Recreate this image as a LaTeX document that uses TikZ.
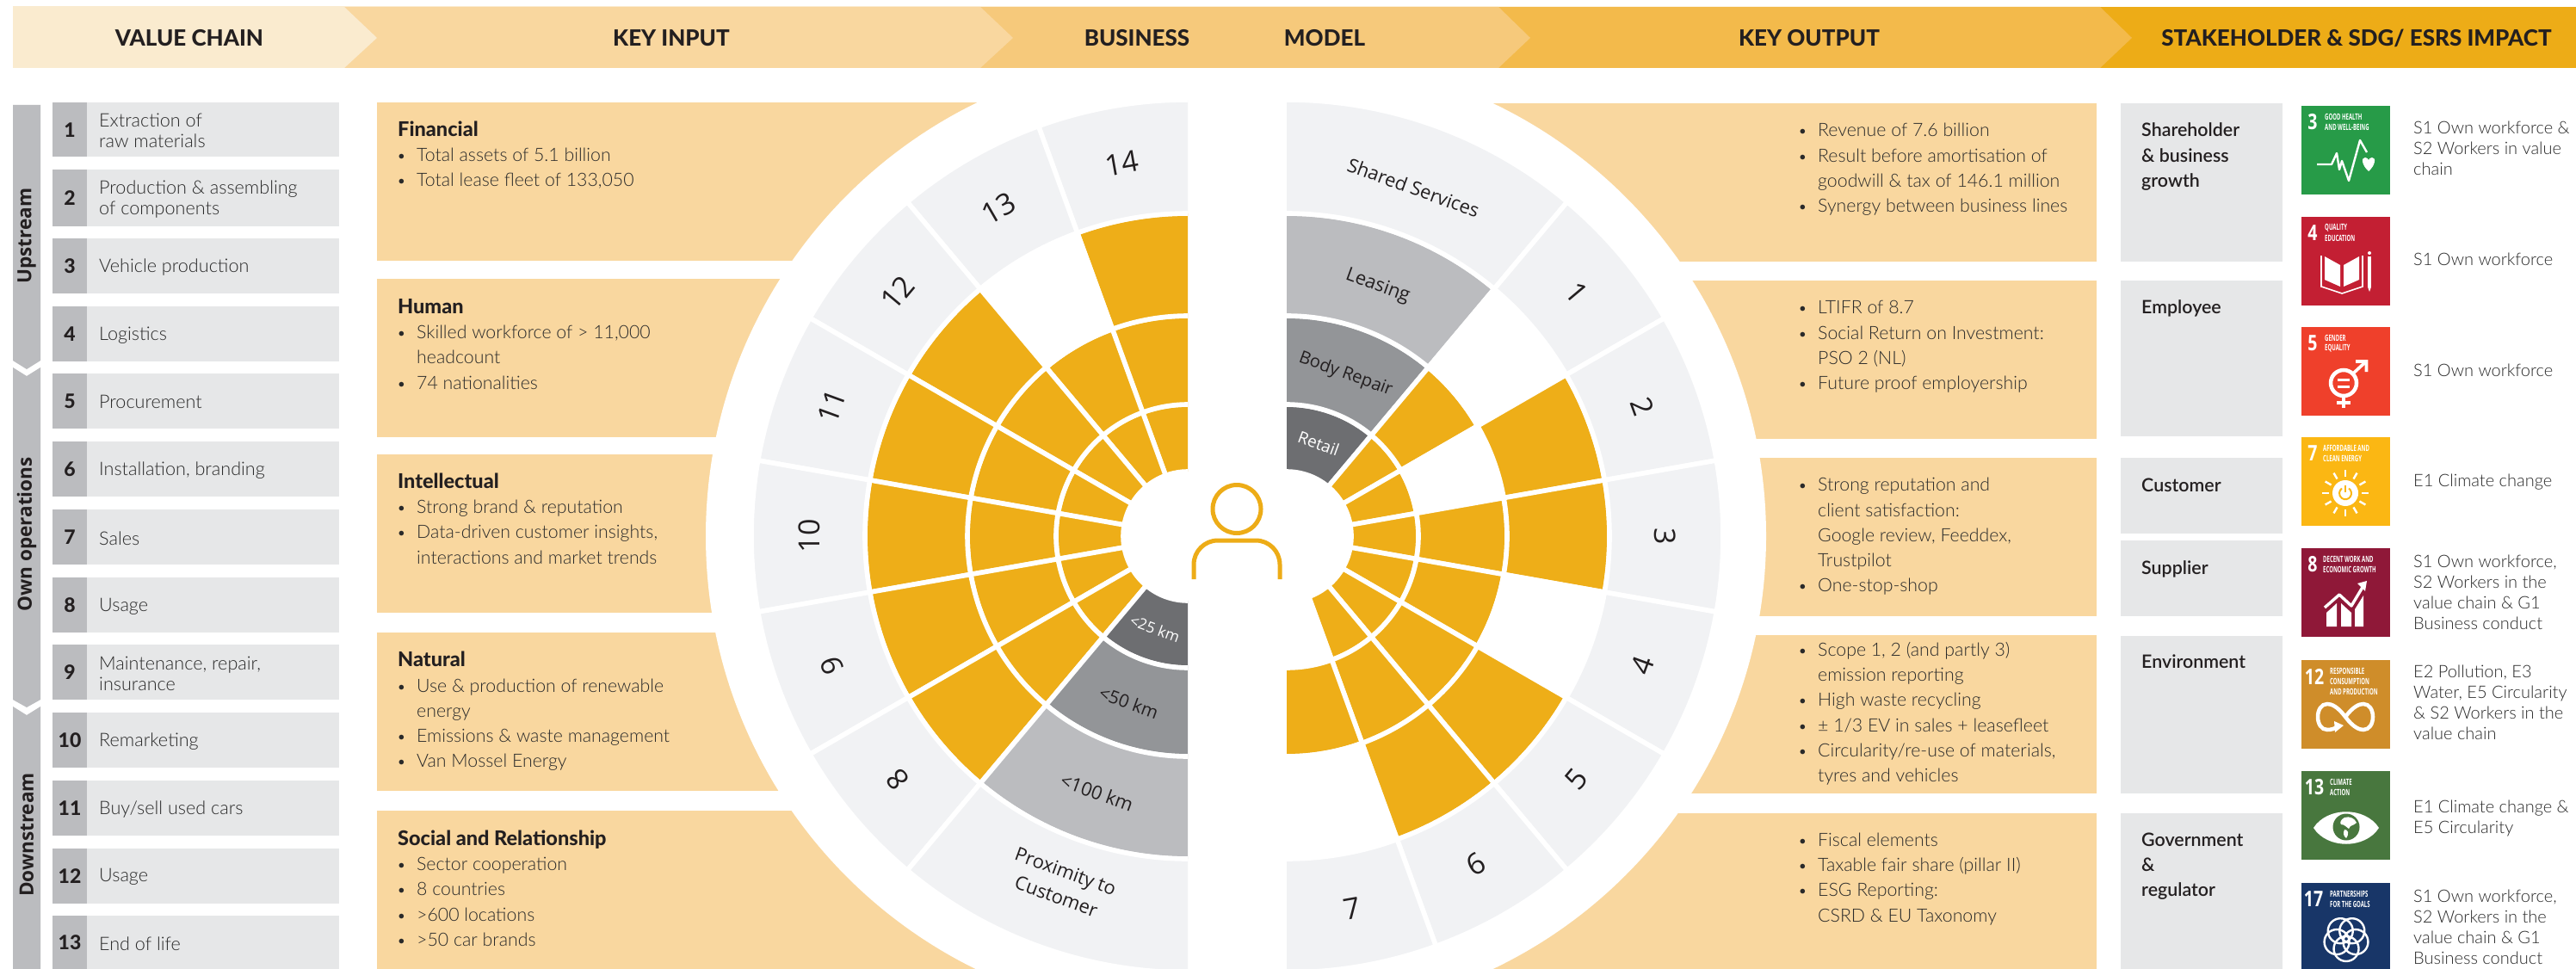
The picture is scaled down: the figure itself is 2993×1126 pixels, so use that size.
\documentclass[tikz,border=0pt]{standalone}
\usepackage{fontspec}
\usepackage{graphicx}
\usetikzlibrary{calc}
\setmainfont{Lato Light}[BoldFont=Lato Heavy]
\newfontfamily\reg{Lato}
\newfontfamily\semi{Lato Semibold}
\newfontfamily\hv{Lato Heavy}
\newfontfamily\os{Open Sans}
\newfontfamily\osb{Open Sans Bold}
\definecolor{hA}{HTML}{FAEBCF}
\definecolor{hB}{HTML}{F9D79F}
\definecolor{hC}{HTML}{F6C97B}
\definecolor{hD}{HTML}{F3BA4B}
\definecolor{hE}{HTML}{EDAC17}
\definecolor{pan}{HTML}{F9D79F}
\definecolor{gbox}{HTML}{E6E7E8}
\definecolor{gnum}{HTML}{BBBCBF}
\definecolor{lab}{HTML}{F1F2F4}
\definecolor{og}{HTML}{EEAE18}
\definecolor{gA}{HTML}{BBBCBF}
\definecolor{gB}{HTML}{939598}
\definecolor{gC}{HTML}{6D6E71}
\definecolor{ink}{HTML}{231F20}
\definecolor{txt}{HTML}{2A2A2A}
\definecolor{sdg3}{HTML}{279B48}
\definecolor{sdg4}{HTML}{C31F33}
\definecolor{sdg5}{HTML}{EF402B}
\definecolor{sdg7}{HTML}{FBB713}
\definecolor{sdg8}{HTML}{8F1838}
\definecolor{sdg12}{HTML}{CF8D2A}
\definecolor{sdg13}{HTML}{48773E}
\definecolor{sdg17}{HTML}{183668}
\tikzset{
 hdr/.style={font=\fontsize{26}{26}\selectfont\hv,text=ink,inner sep=0},
 rowtxt/.style={font=\fontsize{21.6}{24}\selectfont,text=txt,inner sep=0,anchor=west,align=left},
 numtxt/.style={font=\fontsize{23}{23}\selectfont\hv,text=ink,inner sep=0},
 sidetxt/.style={font=\fontsize{22.5}{22.5}\selectfont\osb,text=ink,inner sep=0,rotate=90},
 paneltxt/.style={font=\fontsize{21.3}{29.3}\selectfont,text=txt,inner sep=0,anchor=north west,align=left},
 stxt/.style={font=\fontsize{21.4}{29.3}\selectfont\semi,text=ink,inner sep=0,anchor=north west,align=left},
 imptxt/.style={font=\fontsize{20}{24}\selectfont,text=txt,inner sep=0,anchor=north west,align=left},
 wnum/.style={font=\fontsize{34}{34}\selectfont\os,text=ink,inner sep=0},
 wlab/.style={font=\fontsize{22}{31}\selectfont\os,text=ink,inner sep=0,align=left},
 sdgnum/.style={font=\fontsize{25}{25}\selectfont\osb,text=white,inner sep=0},
 sdgt/.style={font=\fontsize{10}{10}\selectfont\osb,text=white,inner sep=0,anchor=west},
}
\newcommand{\ttl}[1]{\strut{\fontsize{23.5}{29.3}\selectfont\hv\textcolor{ink}{#1}}}
\newcommand{\bl}[1]{\strut\makebox[22pt][l]{\raisebox{1pt}{\fontsize{15}{15}\selectfont\reg •}}#1}
\newcommand{\cl}[1]{\strut\hspace*{22pt}#1}
\newcommand{\vcrow}[4]{%
 \fill[gnum] (61,#2) rectangle (101,#3);
 \fill[gbox] (101,#2) rectangle (394,#3);
 \node[numtxt] (vn#1) at (81,{(#2+#3)/2}) {#1};
 \node[rowtxt] (vt#1) at (115,{(#2+#3)/2+1.5}) {#4};}
\newcommand{\wcell}[5]{%
 \filldraw[fill=#5,draw=white,line width=5.6pt,line join=miter]
  (#1:#3pt) -- (#1:#4pt) arc[start angle=#1,end angle=#2,radius=#4pt]
  -- (#2:#3pt) arc[start angle=#2,end angle=#1,radius=#3pt] -- cycle;}
\newcommand{\sect}[5]{%
 \wcell{#1}{#2}{75}{153}{#3}\wcell{#1}{#2}{153}{256}{#4}\wcell{#1}{#2}{256}{375}{#5}\wcell{#1}{#2}{375}{507}{lab}}
\newcommand{\sdg}[6]{% name, top, colour, number, number x, drawing
 \begin{scope}[shift={(2674,#2)}]
 \fill[#3] (0,0) rectangle (103,{min(103,1126-#2)});
 \node[sdgnum] (#1n) at (#5,19) {\scalebox{.78}[1]{#4}};
 #6
 \end{scope}}
\newcommand{\stl}[3]{\node[sdgt] at (#1,#2) {\scalebox{.6}[1]{#3}};}
\begin{document}
\begin{tikzpicture}[x=1pt,y=-1pt]
\useasboundingbox (0,0) rectangle (2993,1126);
\fill[white] (0,0) rectangle (2993,1126);
% key input panels
\fill[pan] (438,119) rectangle (1380,303);
\fill[pan] (438,324) rectangle (1380,508);
\fill[pan] (438,528) rectangle (1380,712);
\fill[pan] (438,735) rectangle (1380,919);
\fill[pan] (438,942) rectangle (1380,1126);
% key output panels
\fill[pan] (1495,120) rectangle (2436,304);
\fill[pan] (1495,326) rectangle (2436,510);
\fill[pan] (1495,532) rectangle (2436,716);
\fill[pan] (1495,738) rectangle (2436,922);
\fill[pan] (1495,945) rectangle (2436,1126);
% white halos
\begin{scope}[shift={(1380,623)},x=1pt,y=1pt]
\fill[white] (90:560pt) arc[start angle=90,end angle=270,radius=560pt] -- cycle;
\end{scope}
\begin{scope}[shift={(1495,623)},x=1pt,y=1pt]
\fill[white] (90:557pt) arc[start angle=90,end angle=-90,radius=557pt] -- cycle;
\end{scope}
% header
\fill[hE] (15,8) rectangle (2993,79);
\fill[hD] (15,8) -- (2440,8) -- (2477,44) -- (2440,79) -- (15,79) -- cycle;
\fill[hC] (15,8) -- (1741,8) -- (1778,44) -- (1741,79) -- (15,79) -- cycle;
\fill[hB] (15,8) -- (1139,8) -- (1177,44) -- (1139,79) -- (15,79) -- cycle;
\fill[hA] (15,8) -- (400,8) -- (438,44) -- (400,79) -- (15,79) -- cycle;
\node[hdr] (h1) at (220,44) {VALUE CHAIN};
\node[hdr] (h2) at (780,44) {KEY INPUT};
\node[hdr] (h3) at (1321,44) {BUSINESS};
\node[hdr] (h4) at (1539,44) {MODEL};
\node[hdr] (h5) at (2102,44) {KEY OUTPUT};
\node[hdr] (h6) at (2738,44) {STAKEHOLDER \& SDG/ ESRS IMPACT};
% side bar
\fill[gnum] (15,122) -- (47,122) -- (47,419) -- (31,429) -- (15,419) -- cycle;
\fill[gnum] (15,427) -- (31,437) -- (47,427) -- (47,813) -- (31,822) -- (15,813) -- cycle;
\fill[gnum] (15,821) -- (31,831) -- (47,821) -- (47,1126) -- (15,1126) -- cycle;
\node[sidetxt] (s1) at (31,274) {Upstream};
\node[sidetxt] (s2) at (31,621) {Own operations};
\node[sidetxt] (s3) at (31,970) {Downstream};
% value chain rows
\vcrow{1}{119}{182.5}{Extraction of\\raw materials}
\vcrow{2}{197}{262.5}{Production \& assembling\\of components}
\vcrow{3}{277}{340.6}{Vehicle production}
\vcrow{4}{356}{420}{Logistics}
\vcrow{5}{434}{497.5}{Procurement}
\vcrow{6}{513}{577}{Installation, branding}
\vcrow{7}{592}{655.7}{Sales}
\vcrow{8}{671}{735}{Usage}
\vcrow{9}{749}{813}{Maintenance, repair,\\insurance}
\vcrow{10}{828}{892}{Remarketing}
\vcrow{11}{907}{971}{Buy/sell used cars}
\vcrow{12}{986}{1049.5}{Usage}
\vcrow{13}{1064}{1127}{End of life}
% key input text
\node[paneltxt] (i1) at (462,137.5) {\ttl{Financial}\\\bl{Total assets of 5.1 billion}\\\bl{Total lease fleet of 133,050}};
\node[paneltxt] (i2) at (462,343.5) {\ttl{Human}\\\bl{Skilled workforce of > 11,000}\\\cl{headcount}\\\bl{74 nationalities}};
\node[paneltxt] (i3) at (462,546.5) {\ttl{Intellectual}\\\bl{Strong brand \& reputation}\\\bl{Data-driven customer insights,}\\\cl{interactions and market trends}};
\node[paneltxt] (i4) at (462,754) {\ttl{Natural}\\\bl{Use \& production of renewable}\\\cl{energy}\\\bl{Emissions \& waste management}\\\bl{Van Mossel Energy}};
\node[paneltxt] (i5) at (462,961.5) {\ttl{Social and Relationship}\\\bl{Sector cooperation}\\\bl{8 countries}\\\bl{>600 locations}\\\bl{>50 car brands}};
% key output text
\node[paneltxt] (o1) at (2090,138) {\bl{Revenue of 7.6 billion}\\\bl{Result before amortisation of}\\\cl{goodwill \& tax of 146.1 million}\\\bl{Synergy between business lines}};
\node[paneltxt] (o2) at (2090,344) {\bl{LTIFR of 8.7}\\\bl{Social Return on Investment:}\\\cl{PSO 2 (NL)}\\\bl{Future proof employership}};
\node[paneltxt] (o3) at (2090,550) {\bl{Strong reputation and}\\\cl{client satisfaction:}\\\cl{Google review, Feeddex,}\\\cl{Trustpilot}\\\bl{One-stop-shop}};
\node[paneltxt] (o4) at (2090,741.5) {\bl{Scope 1, 2 (and partly 3)}\\\cl{emission reporting}\\\bl{High waste recycling}\\\bl{± 1/3 EV in sales + leasefleet}\\\bl{Circularity/re-use of materials,}\\\cl{tyres and vehicles}};
\node[paneltxt] (o5) at (2090,962.5) {\bl{Fiscal elements}\\\bl{Taxable fair share (pillar II)}\\\bl{ESG Reporting:}\\\cl{CSRD \& EU Taxonomy}};
% stakeholder boxes
\fill[gbox] (2464,120) rectangle (2652,304);
\fill[gbox] (2464,326) rectangle (2652,507);
\fill[gbox] (2464,532) rectangle (2652,620);
\fill[gbox] (2464,628) rectangle (2652,716);
\fill[gbox] (2464,739) rectangle (2652,922);
\fill[gbox] (2464,945) rectangle (2652,1126);
\node[stxt] (k1) at (2488,138) {\strut Shareholder\\\strut \& business\\\strut growth};
\node[stxt] (k2) at (2488,344) {\strut Employee};
\node[stxt] (k3) at (2488,550.5) {\strut Customer};
\node[stxt] (k4) at (2488,646.5) {\strut Supplier};
\node[stxt] (k5) at (2488,755.5) {\strut Environment};
\node[stxt] (k6) at (2488,962.5) {\strut Government\\\strut \&\\\strut regulator};
% impact text
\node[imptxt] (m1) at (2804,139) {\strut S1 Own workforce \&\\\strut S2 Workers in value\\\strut chain};
\node[imptxt] (m2) at (2804,291) {\strut S1 Own workforce};
\node[imptxt] (m3) at (2804,420) {\strut S1 Own workforce};
\node[imptxt] (m4) at (2804,548.5) {\strut E1 Climate change};
\node[imptxt] (m5) at (2804,642) {\strut S1 Own workforce,\\\strut S2 Workers in the\\\strut value chain \& G1\\\strut Business conduct};
\node[imptxt] (m6) at (2804,770) {\strut E2 Pollution, E3\\\strut Water, E5 Circularity\\\strut \& S2 Workers in the\\\strut value chain};
\node[imptxt] (m7) at (2804,927) {\strut E1 Climate change \&\\\strut E5 Circularity};
\node[imptxt] (m8) at (2804,1031) {\strut S1 Own workforce,\\\strut S2 Workers in the\\\strut value chain \& G1\\\strut Business conduct};
% SDG icons
\sdg{a}{123}{sdg3}{3}{13}{\stl{27}{13}{GOOD HEALTH}\stl{27}{25}{AND WELL-BEING}
 \draw[white,line width=2.4pt,line join=round] (18,68)--(35,68)--(41,55)--(44,74)--(47,64)--(55,87)--(68,40)--(76,54);
 \fill[white] (78,76) .. controls (70,69) and (69,60) .. (74,60) .. controls (76,60) and (78,62) .. (78,63) .. controls (78,62) and (80,60) .. (82,60) .. controls (87,60) and (86,69) .. (78,76) -- cycle;}
\sdg{b}{252}{sdg4}{4}{13}{\stl{27}{13}{QUALITY}\stl{27}{25}{EDUCATION}
 \fill[white] (27,46)--(45,56)--(45,81)--(27,73)--cycle (49,56)--(67,46)--(67,73)--(49,81)--cycle;
 \draw[white,line width=1.6pt] (23,45)--(23,81)--(47,89)--(71,81)--(71,45);
 \draw[white,line width=3.5pt] (79,46)--(79,82);
 \fill[white] (77.2,82)--(80.8,82)--(79,87)--cycle (79,42) circle (2);}
\sdg{c}{380}{sdg5}{5}{13}{\stl{27}{13}{GENDER}\stl{27}{25}{EQUALITY}
 \draw[white,line width=4.5pt] (49,65) circle (15);
 \draw[white,line width=3pt] (42,61)--(56,61) (42,69)--(56,69);
 \draw[white,line width=3.6pt] (60,54)--(74,41) (63,40)--(75.5,40)--(75.5,52);
 \draw[white,line width=4pt] (49,81)--(49,94) (41,88)--(57,88);}
\sdg{d}{508}{sdg7}{7}{13}{\stl{25}{13}{AFFORDABLE AND}\stl{25}{25}{CLEAN ENERGY}
 \fill[white] (51,65) circle (15);
 \foreach \t in {0,30,...,330}{\draw[white,line width=2.4pt] ($(51,65)+(\t:19)$)--($(51,65)+(\t:27)$);}
 \draw[sdg7,line width=2pt] (55,59.5) arc[start angle=-55,end angle=235,radius=7];
 \draw[sdg7,line width=2pt] (51,56)--(51,64);}
\sdg{e}{637}{sdg8}{8}{13}{\stl{25}{13}{DECENT WORK AND}\stl{25}{25}{ECONOMIC GROWTH}
 \fill[white] (29,91)--(29,75)--(41,64)--(41,91)--cycle (46,91)--(46,64)--(58,75)--(58,91)--cycle (62,91)--(62,71)--(72,55)--(72,91)--cycle;
 \draw[white,line width=3.4pt,line join=round] (27,69)--(44,54)--(58,67)--(73,42);
 \fill[white] (76,38)--(65,41)--(74,50)--cycle;}
\sdg{f}{767}{sdg12}{12}{15}{\stl{33}{13}{RESPONSIBLE}\stl{33}{25}{CONSUMPTION}\stl{33}{37}{AND PRODUCTION}
 \draw[white,line width=4.5pt] (51,66) .. controls (60,54) and (67,51) .. (72,51) .. controls (79,51) and (83,58) .. (83,66) .. controls (83,74) and (79,81) .. (72,81) .. controls (67,81) and (60,78) .. (51,66) .. controls (42,54) and (35,51) .. (30,51) .. controls (23,51) and (19,58) .. (19,66) .. controls (19,74) and (23,81) .. (30,81) .. controls (34,81) and (38,80) .. (41,78);
 \fill[white] (49,76)--(38,71)--(39,84)--cycle;}
\sdg{g}{896}{sdg13}{13}{15}{\stl{33}{13}{CLIMATE}\stl{33}{25}{ACTION}
 \fill[white] (14,66) .. controls (30,41) and (74,41) .. (90,66) .. controls (74,91) and (30,91) .. (14,66) -- cycle;
 \fill[sdg13] (52,65) circle (15.5);
 \fill[white] (50,54) .. controls (56,52) and (62,55) .. (64,60) .. controls (60,64) and (57,62) .. (55,67) .. controls (52,65) and (50,62) .. (46,62) .. controls (44,60) and (46,56) .. (50,54) -- cycle
 (50,68) .. controls (54,68) and (56,72) .. (52,78) .. controls (49,76) and (48,72) .. (50,68) -- cycle;}
\sdg{h}{1026}{sdg17}{17}{14}{\stl{33}{13}{PARTNERSHIPS}\stl{33}{25}{FOR THE GOALS}
 \foreach \t in {90,162,234,306,18}{\draw[white,line width=2.4pt] ($(52,65)+(\t:11.5)$) circle (14.5);}}
% wheel, left half
\begin{scope}[shift={(1380,623)},x=1pt,y=1pt]
\begin{scope}
\clip (-600,-600) rectangle (0,600);
\sect{80}{110}{og}{og}{og}
\sect{110}{130}{og}{og}{white}
\sect{130}{150}{og}{og}{og}
\sect{150}{170}{og}{og}{og}
\sect{170}{190}{og}{og}{og}
\sect{190}{210}{og}{og}{og}
\sect{210}{230}{og}{og}{og}
\sect{230}{280}{gC}{gB}{gA}
\end{scope}
\node[wnum,rotate=10] (w14) at (100:440pt) {14};
\node[wnum,rotate=30] (w13) at (120:440pt) {13};
\node[wnum,rotate=50] (w12) at (140:440pt) {12};
\node[wnum,rotate=70] (w11) at (160:440pt) {11};
\node[wnum,rotate=90] (w10) at (180:440pt) {10};
\node[wnum,rotate=110] (w9) at (200:440pt) {9};
\node[wnum,rotate=130] (w8) at (220:440pt) {8};
\node[wlab,rotate=-20] (wp) at (250:430pt) {Proximity to\\\hspace*{11pt}Customer};
\node[wlab,rotate=-20] (w100) at (250.5:316pt) {<100 km};
\node[wlab,rotate=-20,font=\fontsize{20.8}{24}\selectfont\os] (w50) at (250.5:205pt) {<50 km};
\node[wlab,rotate=-20,font=\fontsize{17.5}{20}\selectfont\os,text=white] (w25) at (250.5:114pt) {<25 km};
\end{scope}
% wheel, right half
\begin{scope}[shift={(1495,623)},x=1pt,y=1pt]
\begin{scope}
\clip (0,-600) rectangle (600,600);
\sect{50}{100}{gC}{gB}{gA}
\sect{30}{50}{og}{og}{white}
\sect{10}{30}{og}{white}{og}
\sect{-10}{10}{og}{og}{og}
\sect{-30}{-10}{og}{og}{white}
\sect{-50}{-30}{og}{og}{og}
\sect{-70}{-50}{og}{og}{og}
\sect{-100}{-70}{white}{og}{white}
\end{scope}
\node[wlab,rotate=-20] (wss) at (70:431pt) {Shared Services};
\node[wlab,rotate=-20] (wle) at (70:309pt) {Leasing};
\node[wlab,rotate=-20,font=\fontsize{20.2}{24}\selectfont\os] (wbr) at (70:200pt) {Body Repair};
\node[wlab,rotate=-20,font=\fontsize{19}{20}\selectfont\os,text=white] (wre) at (71:114pt) {Retail};
\node[wnum,rotate=-50] (r1) at (40:440pt) {1};
\node[wnum,rotate=-70] (r2) at (20:440pt) {2};
\node[wnum,rotate=-90] (r3) at (0:440pt) {3};
\node[wnum,rotate=70] (r4) at (-20:440pt) {4};
\node[wnum,rotate=50] (r5) at (-40:440pt) {5};
\node[wnum,rotate=30] (r6) at (-60:440pt) {6};
\node[wnum,rotate=10] (r7) at (-80:440pt) {7};
\end{scope}
% person
\draw[hE,line width=5pt] (1437,591.5) circle (28);
\draw[hE,line width=5pt,rounded corners=28pt] (1387,673) -- (1387,628) -- (1487,628) -- (1487,673);
\end{tikzpicture}
\end{document}
